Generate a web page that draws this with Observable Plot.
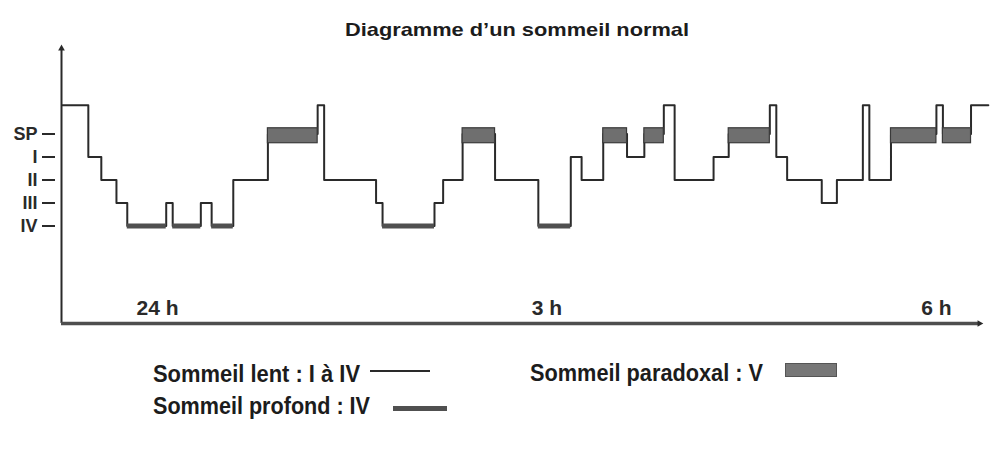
<!DOCTYPE html>
<html><head><meta charset="utf-8">
<script src="https://cdn.jsdelivr.net/npm/d3@7"></script>
<script src="https://cdn.jsdelivr.net/npm/@observablehq/plot@0.6"></script>
<style>
html,body{margin:0;padding:0;background:#fff;}
#page{position:relative;width:995px;height:452px;overflow:hidden;font-family:"Liberation Sans",Arial,sans-serif;color:#1c1c1c;}
.lbl{position:absolute;white-space:nowrap;font-weight:bold;line-height:1;transform-origin:0 0;}
.ttl{font-size:19px;}
.leg{font-size:23px;}
.sw{position:absolute;box-sizing:border-box;}
#chart{position:absolute;left:0;top:36px;}
</style></head>
<body><div id="page"><div id="chart"></div></div>
<script>
// ---- data ----
const titleText = "Diagramme d’un sommeil normal";
const stageLabels = ["IV", "III", "II", "I", "SP"]; // y tick labels, level = index
const wakeLevel = 5.25;                               // éveil (top line)
const xTickMinutes = [0, 180, 360];                   // minutes after midnight
const xTickLabels = ["24 h", "3 h", "6 h"];
const changeMinutes = [-44, -32, -26, -19, -14, 4, 7, 20, 25, 35, 51, 74, 77, 101, 104, 128, 132, 141, 156, 176, 191, 196, 206, 217, 225, 234, 239, 257, 264, 283, 286, 291, 307, 314, 326, 329, 339, 360, 363, 376, 384];
const stages = ["W","I","II","III","IV","III","IV","III","IV","II","SP","W","II","III","IV","III","II","SP","II","IV","I","II","SP","I","SP","W","II","I","SP","W","I","II","III","II","W","II","SP","W","SP","W"];
const legendLabels = ["Sommeil lent : I à IV", "Sommeil profond : IV", "Sommeil paradoxal : V"];

// ---- derived ----
const levelOf = s => s === "W" ? wakeLevel : stageLabels.indexOf(s);
const segments = stages.map((s, i) => ({t0: changeMinutes[i], t1: changeMinutes[i + 1], stage: s, level: levelOf(s)}));
const points = segments.map(d => ({t: d.t0, level: d.level}));
points.push({t: changeMinutes[changeMinutes.length - 1], level: segments[segments.length - 1].level});
const deep = segments.filter(d => d.stage === "IV");
const rem = segments.filter(d => d.stage === "SP");

const xDom = [-44.4, 385];
const yDom = [-4.24, 7.98];
const xAxisEnd = 379.9, yAxisTop = 7.72;
const ink = "#2a2a2a";

const chart = Plot.plot({
  width: 995, height: 300,
  marginLeft: 61, marginRight: 5, marginTop: 6, marginBottom: 13,
  x: {domain: xDom, axis: null},
  y: {domain: yDom, axis: null},
  style: {background: "transparent", fontFamily: "'Liberation Sans', Arial, sans-serif", color: ink, overflow: "visible"},
  marks: [
    Plot.line(points, {x: "t", y: "level", curve: "step-after", stroke: ink, strokeWidth: 2}),
    Plot.ruleY(deep, {x1: "t0", x2: "t1", y: "level", stroke: "#505050", strokeWidth: 5}),
    Plot.rect(rem, {x1: "t0", x2: "t1", y1: d => d.level - 0.4, y2: d => d.level + 0.25, fill: "#6f6f6f", stroke: "#3a3a3a", strokeWidth: 1.2}),
    // axes
    Plot.ruleX([xDom[0]], {y1: yDom[0], y2: yAxisTop, stroke: ink, strokeWidth: 2}),
    Plot.dot([yAxisTop], {x: () => xDom[0], y: d => d, symbol: "triangle2", r: 3.2, fill: ink, stroke: null}),
    Plot.ruleY([yDom[0]], {x1: xDom[0], x2: xAxisEnd, stroke: "#4e4e4e", strokeWidth: 3.5}),
    Plot.dot([xAxisEnd], {x: d => d, y: () => yDom[0], symbol: "triangle2", rotate: 90, r: 3.2, fill: ink, stroke: null}),
    Plot.axisY({ticks: stageLabels.map((_, i) => i), tickFormat: d => stageLabels[d], label: null, tickSize: 13, tickPadding: 5, dx: -6, fontWeight: "bold", fontSize: 18, strokeWidth: 2}),
    Plot.axisX({ticks: xTickMinutes, tickFormat: d => xTickLabels[xTickMinutes.indexOf(d)], label: null, tickSize: 0, dy: -32, fontWeight: "bold", fontSize: 21})
  ]
});
document.getElementById("chart").appendChild(chart);

// ---- title & legend (HTML) ----
const page = document.getElementById("page");
function addLabel(text, cls, left, top, targetWidth) {
  const el = document.createElement("div");
  el.className = "lbl " + cls;
  el.textContent = text;
  el.style.left = left + "px";
  el.style.top = top + "px";
  page.appendChild(el);
  const w = el.getBoundingClientRect().width;
  if (w > 0) el.style.transform = `scaleX(${targetWidth / w})`;
  return el;
}
addLabel(titleText, "ttl", 345, 20, 344);
addLabel(legendLabels[0], "leg", 153, 362.5, 207);
addLabel(legendLabels[1], "leg", 153, 394.5, 217);
addLabel(legendLabels[2], "leg", 530, 361.5, 233);

function swatch(left, top, w, h, bg, border) {
  const s = document.createElement("div");
  s.className = "sw";
  Object.assign(s.style, {left: left + "px", top: top + "px", width: w + "px", height: h + "px", background: bg});
  if (border) s.style.border = border;
  page.appendChild(s);
}
swatch(370, 370, 60, 2, ink);
swatch(393, 406, 54, 5, "#505050");
swatch(785, 363, 52, 14, "#777", "1px solid #555");
</script>
</body></html>
